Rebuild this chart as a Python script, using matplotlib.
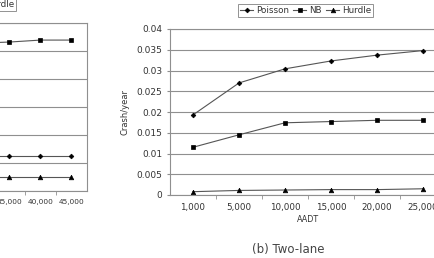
import numpy as np
import matplotlib
matplotlib.use('Agg')
import matplotlib.pyplot as plt
from matplotlib.ticker import FixedLocator

# (b) two-lane chart data
aadt_b = ['1,000', '5,000', '10,000', '15,000', '20,000', '25,000']
poisson_b = [0.0193, 0.0270, 0.0304, 0.0323, 0.0337, 0.0348]
nb_b = [0.0115, 0.0145, 0.0174, 0.0177, 0.0180, 0.0180]
hurdle_b = [0.0008, 0.0011, 0.0012, 0.0013, 0.0013, 0.0015]
yticks_b = [0, 0.005, 0.01, 0.015, 0.02, 0.025, 0.03, 0.035, 0.04]
ylabels_b = ['0', '0.005', '0.01', '0.015', '0.02', '0.025', '0.03', '0.035', '0.04']

# (a) partial chart on the left (only right end visible)
aadt_a = ['30,000', '35,000', '40,000', '45,000']
poisson_a = [0.0125, 0.0125, 0.0125, 0.0125]
nb_a = [0.0528, 0.0532, 0.0539, 0.0539]
hurdle_a = [0.0050, 0.0050, 0.0050, 0.0050]
yticks_a = [0, 0.01, 0.02, 0.03, 0.04, 0.05, 0.06]

W, H = 434, 258
fig = plt.figure(figsize=(W / 100, H / 100), dpi=100)
fig.patch.set_facecolor('white')

txt = '#333333'
grid_c = '#8f8f8f'
line_c = '#555555'
styles = [('Poisson', 'D', 2.4), ('NB', 's', 2.9), ('Hurdle', '^', 3.3)]


def px_axes(left, top, right, bottom):
    return fig.add_axes([left / W, 1 - bottom / H, (right - left) / W, (bottom - top) / H])


def draw(ax, cats, series, yticks, xfs):
    x = np.arange(len(cats))
    handles = []
    for (name, mk, ms), ys in zip(styles, series):
        h, = ax.plot(x, ys, color=line_c, lw=0.8, marker=mk, ms=ms,
                     mfc='black', mec='black', mew=0.5, label=name)
        handles.append(h)
    ax.set_xlim(-0.5, len(cats) - 0.5)
    ax.set_ylim(yticks[0], yticks[-1])
    ax.yaxis.set_major_locator(FixedLocator(yticks))
    ax.grid(axis='y', color=grid_c, lw=0.8)
    ax.set_axisbelow(True)
    for s in ax.spines.values():
        s.set_color(grid_c)
        s.set_linewidth(0.8)
    ax.set_xticks(x)
    ax.set_xticklabels(cats)
    ax.xaxis.set_minor_locator(FixedLocator(np.arange(0.5, len(cats) - 1, 1)))
    ax.tick_params(axis='x', which='major', length=0, pad=6, labelsize=xfs, colors=txt)
    ax.tick_params(axis='x', which='minor', length=3, color=grid_c)
    ax.tick_params(axis='y', length=2.5, width=0.8, color=grid_c, pad=3,
                   labelsize=6.5, labelcolor=txt)
    return handles


leg_kw = dict(ncol=3, fontsize=6.3, frameon=True, fancybox=False, edgecolor='#777777',
              handlelength=1.5, handletextpad=0.3, columnspacing=0.5, borderpad=0.25,
              borderaxespad=0, labelcolor=txt)

# left (cut off) chart
axa = px_axes(87 - 4 * 31, 23, 87, 191)
ha = draw(axa, aadt_a, [poisson_a, nb_a, hurdle_a], yticks_a, 5.3)
axa.set_yticklabels([])
lega = fig.legend(handles=ha, loc='upper right', bbox_to_anchor=(16 / W, 1 + 2 / H), **leg_kw)
lega.get_frame().set_linewidth(0.7)

# right chart (b) Two-lane
axb = px_axes(170, 29, 446, 195)
hb = draw(axb, aadt_b, [poisson_b, nb_b, hurdle_b], yticks_b, 6.3)
axb.set_yticklabels(ylabels_b)
axb.set_ylabel('Crash/year', fontsize=6, color=txt, labelpad=5)
axb.set_xlabel('AADT', fontsize=5.8, color=txt, labelpad=2)
legb = fig.legend(handles=hb, loc='upper left', bbox_to_anchor=(238 / W, 1 - 4 / H), **leg_kw)
legb.get_frame().set_linewidth(0.7)

fig.text(288 / W, 1 - 249 / H, '(b) Two-lane', ha='center', va='center',
         fontsize=8.5, color='#444444')

fig.savefig('out.png', dpi=100)
